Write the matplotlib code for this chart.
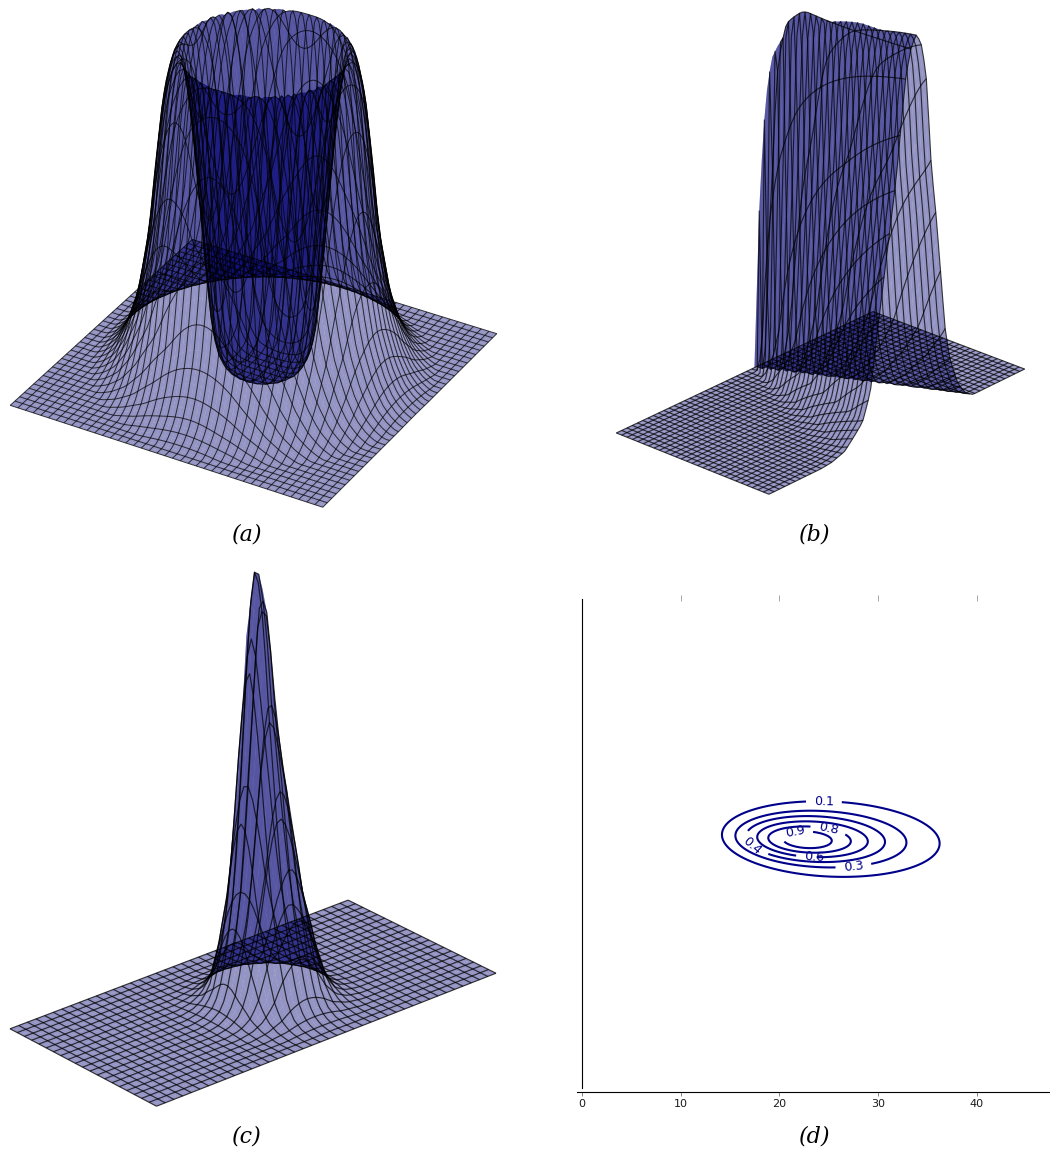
"""
Four panel figure: three translucent surfaces and one contour plot
"""
import matplotlib
matplotlib.use('Agg')

import numpy as np
import matplotlib.pyplot as plt
from mpl_toolkits.mplot3d import proj3d
from mpl_toolkits.mplot3d.art3d import Line3DCollection

W, H = 1050, 1150

# (a) crater, height against distance from the centre
crater_r = [0.0, 0.06, 0.085, 0.11, 0.13, 0.145, 0.16, 0.178, 0.20, 0.22, 0.235, 0.25, 0.26, 0.278, 0.30, 0.32, 0.355, 0.39, 0.42, 0.45, 0.48, 0.90]
crater_z = [0.0, 0.0, 0.005, 0.02, 0.06, 0.13, 0.29, 0.53, 0.80, 0.97, 1.0, 0.98, 0.94, 0.85, 0.64, 0.43, 0.22, 0.11, 0.05, 0.018, 0.0, 0.0]

# (b) wall, height against distance from its centre line, and growth along x
near_u = [0.0, 0.02, 0.04, 0.075, 0.10, 0.14, 0.17, 0.20, 0.23, 0.27, 0.32, 0.36, 3.0]
near_z = [1.0, 0.97, 0.90, 0.65, 0.52, 0.31, 0.14, 0.07, 0.045, 0.015, 0.003, 0.0, 0.0]
far_u = [0.0, 0.02, 0.04, 0.06, 0.08, 0.10, 0.12, 0.14, 0.17, 0.20, 0.23, 3.0]
far_z = [1.0, 0.97, 0.88, 0.65, 0.52, 0.36, 0.20, 0.12, 0.05, 0.015, 0.0, 0.0]
wall_x = [0.0, 0.04, 0.08, 0.12, 0.16, 0.20, 0.30, 0.50, 1.0]
wall_h = [0.0, 0.50, 0.76, 0.88, 0.92, 0.95, 0.97, 0.98, 1.0]
wall_start = 0.53
wall_end = 0.56

# (c) peak, height against distance from the centre
peak_r = [0.0, 0.058, 0.08, 0.11, 0.14, 0.175, 0.22, 0.26, 0.30, 0.35, 0.42, 3.0]
peak_z = [1.0, 0.856, 0.70, 0.545, 0.39, 0.235, 0.12, 0.05, 0.02, 0.006, 0.0, 0.0]

# (d) contour rings
levels = ['0.1', '0.3', '0.4', '0.6', '0.8', '0.9']
ring_cx = [25.2, 24.2, 23.65, 23.35, 23.05, 22.83]
ring_cy = [25.2, 25.2, 25.2, 25.18, 25.15, 25.13]
ring_a = [11.02, 8.66, 7.04, 5.6, 4.18, 2.47]
ring_b = [3.8, 2.85, 2.31, 1.8, 1.32, 0.84]
label_x = [24.5, 27.5, 17.1, 23.5, 24.96, 21.6]
label_y = [28.84, 22.36, 24.3, 23.27, 26.3, 25.87]
ring_skew = -0.04
xticks = [0, 10, 20, 30, 40]

captions = ['(a)', '(b)', '(c)', '(d)']
caption_x = [247, 815, 247, 815]
caption_y = [535, 535, 1137, 1137]

FACE = (0, 0, 0.45, 0.42)
EDGE = (0, 0, 0, 0.75)

fig = plt.figure(figsize=(W / 100, H / 100), dpi=100)


def rounded(r_table, z_table, window=0.012):
    # read-off tables have corners, take them off before looking values up
    rr = np.linspace(0, max(r_table), 4000)
    step = rr[1] - rr[0]
    n = max(3, int(window / step))
    zz = np.interp(rr, r_table, z_table)
    pad = np.r_[np.full(n, zz[0]), zz, np.full(n, zz[-1])]
    kernel = np.ones(n) / n
    zz = np.convolve(np.convolve(pad, kernel, 'same'), kernel, 'same')[n:-n]
    return lambda r: np.interp(r, rr, zz)


def corner_px(ax, x, y):
    px, py, _ = proj3d.proj_transform(x, y, 0, ax.get_proj())
    return ax.transData.transform((px, py))


def fit_axes(ax, x0, x1, y0, y1, left_px, right_px):
    # move the axes so that the left and right base corners land on the target pixels
    left_t = np.array([left_px[0], H - left_px[1]], dtype=float)
    right_t = np.array([right_px[0], H - right_px[1]], dtype=float)
    for _ in range(3):
        ax.apply_aspect()
        a = corner_px(ax, x0, y0)
        b = corner_px(ax, x1, y1)
        s = np.linalg.norm(right_t - left_t) / np.linalg.norm(b - a)
        pos = ax.get_position()
        size = pos.width * W * s
        mid = (a + b) / 2
        cx = pos.x0 * W + pos.width * W / 2
        cy = pos.y0 * H + pos.height * H / 2
        new_c = (left_t + right_t) / 2 + (np.array([cx, cy]) - mid) * s
        ax.set_position([(new_c[0] - size / 2) / W, (new_c[1] - size / 2) / H, size / W, size / H])


def surface(func, xr, yr, nx, ny, aspect, elev, azim, focal, left_px, right_px, lw, sub=2):
    ax = fig.add_axes([0.1, 0.1, 0.5, 0.5 * W / H], projection='3d')
    ax.computed_zorder = False

    # faces on a finer mesh
    fx = np.linspace(xr[0], xr[1], nx * sub + 1)
    fy = np.linspace(yr[0], yr[1], ny * sub + 1)
    X, Y = np.meshgrid(fx, fy, indexing='ij')
    ax.plot_surface(X, Y, func(X, Y), rstride=1, cstride=1, color=FACE, edgecolor='none',
                    linewidth=0, antialiased=True, shade=False, zorder=1)

    # only every sub-th mesh line is drawn
    segs = []
    for x in np.linspace(xr[0], xr[1], nx + 1):
        xs = np.full_like(fy, x)
        segs.append(np.column_stack([xs, fy, func(xs, fy)]))
    for y in np.linspace(yr[0], yr[1], ny + 1):
        ys = np.full_like(fx, y)
        segs.append(np.column_stack([fx, ys, func(fx, ys)]))
    lines = Line3DCollection(segs, colors=[EDGE], linewidths=lw, zorder=2)
    ax.add_collection3d(lines, autolim=False)

    ax.set_xlim(*xr)
    ax.set_ylim(*yr)
    ax.set_zlim(0, 1)
    ax.set_box_aspect(aspect)
    ax.view_init(elev=elev, azim=azim)
    ax.set_proj_type('persp', focal_length=focal)
    ax.set_axis_off()
    ax.patch.set_alpha(0)
    fit_axes(ax, xr[0], xr[1], yr[0], yr[1], left_px, right_px)
    return ax


# panel a
crater = rounded(crater_r, crater_z)


def crater_surface(x, y):
    return crater(np.hypot(x - 0.02, y - 0.013))


surface(crater_surface, (-0.5, 0.5), (-0.5, 0.5), 40, 40, (1, 1, 1.04), 32, -60, 2.0,
        (10, 404), (497, 335), 0.7)

# panel b
wall_near = rounded(near_u, near_z, window=0.008)
wall_far = rounded(far_u, far_z, window=0.008)


def wall_surface(x, y):
    mid = wall_start + (wall_end - wall_start) * x
    u = np.abs(y - mid) / np.maximum(x, 1e-3)
    return np.where(y < mid, wall_near(u), wall_far(u)) * np.interp(x, wall_x, wall_h)


surface(wall_surface, (0, 1), (0, 1), 28, 50, (1, 1.87, 2.05), 24.3, -48, 2.5,
        (617, 437), (1024, 365), 0.8)

# panel c
peak = rounded(peak_r, peak_z, window=0.01)


def peak_surface(x, y):
    # the tip leans a little to the left of the foot
    z0 = peak(np.hypot(x - 0.54, y - 1.05))
    return peak(np.hypot(x - 0.54 + 0.04 * z0, y - 1.05 + 0.047 * z0))


surface(peak_surface, (0, 1), (0, 2), 20, 40, (1, 2, 2.16), 25, -41, 2.5,
        (10, 1029), (496, 973), 0.85)

# panel d
ax = fig.add_axes([577 / W, (H - 1092) / H, (1050 - 577) / W, (1092 - 598) / H])
ax.set_xlim(-0.5, 47.4)
ax.set_ylim(-0.4, 49.6)
gx, gy = np.meshgrid(np.linspace(10, 40, 500), np.linspace(18, 32, 400))
for lev, cx, cy, a, b, lx, ly in zip(levels, ring_cx, ring_cy, ring_a, ring_b, label_x, label_y):
    dx = gx - cx
    ring = (dx / a) ** 2 + ((gy - cy - ring_skew * dx) / b) ** 2
    cs = ax.contour(gx, gy, ring, levels=[1.0], colors='darkblue', linewidths=1.5)
    ax.clabel(cs, fmt={1.0: lev}, manual=[(lx, ly)], inline=True, inline_spacing=8, fontsize=9,
              colors='darkblue')
ax.spines['top'].set_visible(False)
ax.spines['right'].set_visible(False)
ax.spines['left'].set_position(('data', 0))
ax.spines['left'].set_bounds(0, 49.5)
ax.spines['left'].set_linewidth(0.8)
ax.spines['bottom'].set_linewidth(0.8)
ax.set_yticks([])
ax.set_xticks(xticks)
ax.tick_params(axis='x', length=3, width=0.6, color='0.45', labelsize=8, pad=2, labelcolor='0.1')
top_axis = ax.secondary_xaxis('top')
top_axis.set_xticks(xticks[1:])
top_axis.tick_params(direction='inout', length=5, width=0.6, color='0.6', labeltop=False)
top_axis.spines['top'].set_visible(False)

for text, x, y in zip(captions, caption_x, caption_y):
    fig.text(x / W, 1 - y / H, text, ha='center', va='center', fontsize=16,
             style='italic', family='DejaVu Serif')

fig.savefig('out.png', dpi=100)
